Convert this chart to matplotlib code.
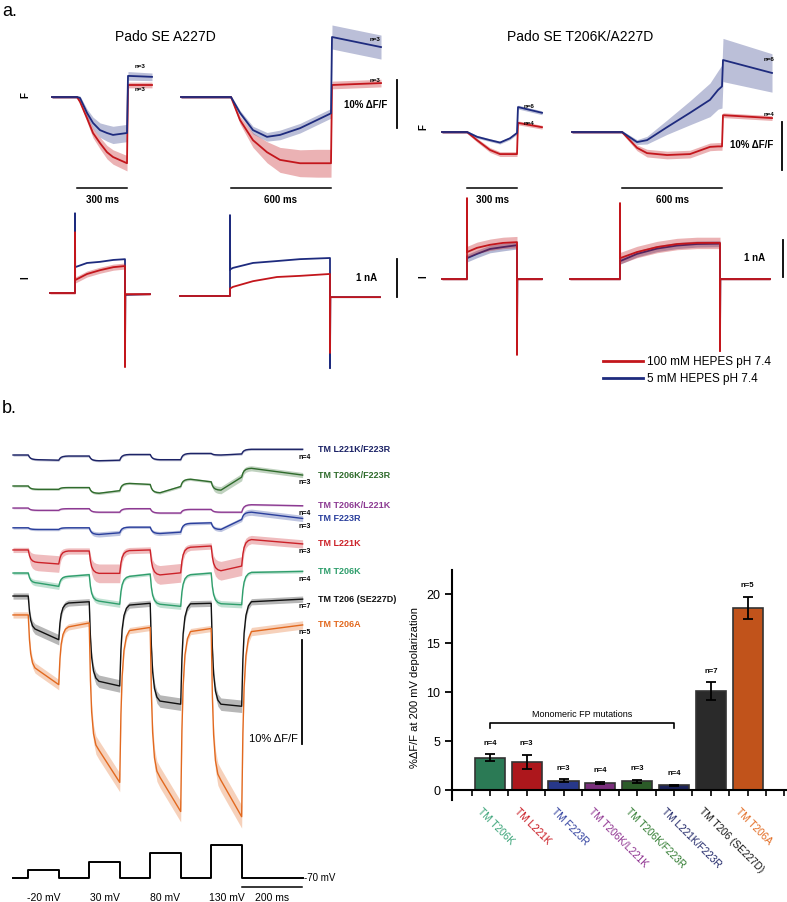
import numpy as np
import matplotlib
matplotlib.use('Agg')
import matplotlib.pyplot as plt
from matplotlib.lines import Line2D
from matplotlib.transforms import ScaledTranslation

plt.rcParams['font.family'] = ['Liberation Sans', 'DejaVu Sans']

# ---------------- panel a data (F in %dF/F, I in nA, time in ms) ----------------
# Pado SE A227D, 300 ms step
a1_t = [0, 150, 168, 210, 246, 288, 330, 366, 450, 456, 600]
a1_blue = [0, 0, -0.2, -3.3, -5.4, -6.9, -7.5, -7.9, -7.5, 4.4, 4.2]
a1_blue_sd = [0.3, 0.3, 0.4, 0.8, 1.2, 1.5, 1.7, 1.8, 1.8, 0.9, 0.8]
a1_red = [0, 0, -1.0, -4.4, -7.5, -9.6, -11.5, -12.5, -13.8, 2.5, 2.5]
a1_red_sd = [0.3, 0.3, 0.4, 0.8, 1.0, 1.2, 1.4, 1.5, 1.6, 0.6, 0.6]
# Pado SE A227D, 600 ms step
a2_t = [0, 300, 354, 432, 516, 594, 714, 816, 900, 906, 1200]
a2_blue = [0, 0, -3.3, -6.9, -8.3, -7.9, -6.5, -4.8, -3.4, 12.5, 10.4]
a2_blue_sd = [0.3, 0.3, 0.5, 0.8, 0.9, 1.0, 1.0, 1.0, 1.0, 2.5, 2.5]
a2_red = [0, 0, -4.8, -9.0, -11.5, -13.1, -13.8, -13.8, -13.8, 2.5, 2.9]
a2_red_sd = [0.3, 0.3, 0.8, 1.5, 2.2, 2.6, 2.8, 2.9, 2.9, 0.8, 0.8]
# Pado SE T206K/A227D, 300 ms step
a3_t = [0, 150, 210, 288, 348, 408, 450, 456, 600]
a3_blue = [0, 0, -1.0, -1.7, -2.2, -1.3, -0.2, 5.2, 4.0]
a3_blue_sd = [0.3, 0.3, 0.3, 0.3, 0.3, 0.3, 0.3, 0.4, 0.4]
a3_red = [0, 0, -1.7, -3.75, -4.6, -4.6, -4.6, 1.9, 1.0]
a3_red_sd = [0.3, 0.3, 0.4, 0.5, 0.5, 0.5, 0.5, 0.4, 0.4]
# Pado SE T206K/A227D, 600 ms step
a4_t = [0, 300, 390, 450, 570, 708, 828, 876, 900, 906, 1200]
a4_blue = [0, 0, -2.1, -1.7, 1.0, 4.0, 6.7, 8.75, 9.5, 15.0, 12.3]
a4_blue_sd = [0.3, 0.3, 0.5, 0.8, 1.5, 2.5, 3.5, 4.0, 4.5, 4.5, 4.0]
a4_red = [0, 0, -3.3, -4.4, -4.8, -4.6, -3.1, -3.0, -3.0, 3.5, 2.9]
a4_red_sd = [0.3, 0.3, 0.6, 0.8, 0.8, 0.8, 0.8, 0.8, 0.8, 0.5, 0.5]

# currents
i1_t = [0, 150, 150, 151, 222, 300, 380, 450, 450, 452, 600]
i1_blue = [0, 0, 2.1, 0.68, 0.79, 0.82, 0.87, 0.89, -1.5, -0.05, -0.03]
i1_red = [0, 0, 1.6, 0.34, 0.5, 0.6, 0.68, 0.71, -1.95, -0.03, -0.03]
i1_red_sd = [0.03, 0.03, 0.03, 0.08, 0.08, 0.08, 0.08, 0.08, 0.03, 0.03, 0.03]
i2_t = [0, 300, 300, 301, 318, 438, 582, 720, 900, 900, 902, 1200]
i2_blue = [0, 0, 2.13, 0.7, 0.74, 0.87, 0.92, 0.97, 1.0, -1.9, -0.03, -0.03]
i2_red = [0, 0, 0.2, 0.2, 0.24, 0.39, 0.5, 0.53, 0.58, -1.5, -0.03, -0.03]
i3_t = [0, 150, 150, 151, 210, 288, 366, 450, 450, 452, 600]
i3_blue = [0, 0, 0.6, 0.55, 0.66, 0.79, 0.84, 0.89, -1.5, 0, 0]
i3_blue_sd = [0.02, 0.02, 0.02, 0.1, 0.1, 0.1, 0.1, 0.1, 0.02, 0.02, 0.02]
i3_red = [0, 0, 2.13, 0.71, 0.82, 0.9, 0.95, 0.97, -2.0, 0, 0]
i3_red_sd = [0.03, 0.03, 0.03, 0.15, 0.15, 0.15, 0.15, 0.15, 0.03, 0.03, 0.03]
i4_t = [0, 300, 300, 301, 402, 522, 642, 762, 900, 900, 902, 1200]
i4_blue = [0, 0, 0.5, 0.47, 0.66, 0.8, 0.88, 0.92, 0.93, -1.5, 0, 0]
i4_blue_sd = [0.02, 0.02, 0.02, 0.08, 0.08, 0.08, 0.08, 0.08, 0.08, 0.02, 0.02, 0.02]
i4_red = [0, 0, 2.0, 0.55, 0.71, 0.84, 0.92, 0.95, 0.95, -1.9, 0, 0]
i4_red_sd = [0.03, 0.03, 0.03, 0.15, 0.15, 0.15, 0.15, 0.15, 0.15, 0.03, 0.03, 0.03]

a_titles = ['Pado SE A227D', 'Pado SE T206K/A227D']
a_n = [('n=3', 'n=3'), ('n=3', 'n=3'), ('n=6', 'n=4'), ('n=6', 'n=4')]
legend_labels = ['100 mM HEPES pH 7.4', '5 mM HEPES pH 7.4']

# ---------------- panel b data ----------------
seg_edges = [0, 50, 150, 250, 350, 450, 550, 650, 750, 950]
hold_mv = -70
step_mv = [-20, 30, 80, 130]
# shared relaxation shape (ms after a step, fraction reached)
kin_t = [0, 4, 8, 14, 22, 32]
kin_frac = [0, 0.45, 0.7, 0.87, 0.96, 1.0]

b_names = ['TM L221K/F223R', 'TM T206K/F223R', 'TM T206K/L221K', 'TM F223R',
           'TM L221K', 'TM T206K', 'TM T206 (SE227D)', 'TM T206A']
b_n = ['n=4', 'n=3', 'n=4', 'n=3', 'n=3', 'n=4', 'n=7', 'n=5']
b_colors = ['#1c2366', '#2f6b2c', '#8c3a92', '#2a3f9c', '#cc2229', '#2f9e6c', '#111111', '#e2691f']
b_offsets = [0, -2.98, -5.1, -7.0, -9.13, -11.35, -13.56, -15.38]
# value early in each segment (32 ms after the step) and at the end of it
b_early = [
    [0, -0.45, -0.1, -0.55, 0.05, -0.45, 0.15, 0.0, 0.55],
    [0, -0.32, -0.15, -0.7, 0.25, -0.65, 0.65, -0.4, 1.7],
    [0, -0.22, -0.06, -0.4, -0.06, -0.48, -0.13, -0.4, 0.32],
    [0, -0.16, 0.0, -0.64, 0.06, -0.55, 0.42, -0.16, 1.5],
    [0, -1.2, -0.1, -2.25, -0.06, -2.4, 0.26, -2.0, 1.0],
    [0, -0.96, -0.32, -2.7, -0.32, -3.0, -0.16, -2.95, 0.06],
    [0, -3.3, -0.67, -8.2, -0.87, -10.1, -0.75, -10.4, -0.55],
    [0, -5.3, -1.15, -13.0, -1.5, -15.6, -1.6, -15.9, -1.6],
]
b_late = [
    [0, -0.5, -0.1, -0.5, 0.05, -0.45, 0.15, 0.1, 0.55],
    [0, -0.32, -0.15, -0.45, 0.15, -0.05, 0.4, 0.85, 1.05],
    [0, -0.22, -0.06, -0.4, -0.06, -0.48, -0.13, -0.4, 0.22],
    [0, -0.16, 0.0, -0.48, 0.06, -0.42, 0.48, 0.8, 0.9],
    [0, -1.35, -0.1, -2.25, 0.0, -2.2, 0.38, -1.55, 0.58],
    [0, -1.28, -0.16, -3.0, -0.1, -3.2, 0.0, -3.05, 0.16],
    [0, -4.2, -0.55, -8.65, -0.7, -10.4, -0.7, -10.6, -0.3],
    [0, -6.7, -0.77, -16.1, -1.2, -18.9, -1.3, -19.4, -0.96],
]
b_sd = [
    [0.1] * 9,
    [0.1, 0.1, 0.1, 0.12, 0.1, 0.12, 0.12, 0.35, 0.25],
    [0.08] * 9,
    [0.12, 0.12, 0.12, 0.25, 0.12, 0.2, 0.15, 0.2, 0.3],
    [0.25, 0.8, 0.3, 0.9, 0.3, 0.9, 0.3, 0.9, 0.4],
    [0.15, 0.3, 0.15, 0.3, 0.15, 0.3, 0.15, 0.3, 0.15],
    [0.3, 0.5, 0.3, 0.6, 0.3, 0.6, 0.3, 0.6, 0.3],
    [0.3, 0.5, 0.3, 0.9, 0.3, 1.0, 0.3, 1.1, 0.4],
]

# ---------------- bar chart data ----------------
bar_labels = ['TM T206K', 'TM L221K', 'TM F223R', 'TM T206K/L221K',
              'TM T206K/F223R', 'TM L221K/F223R', 'TM T206 (SE227D)', 'TM T206A']
bar_values = [3.3, 2.9, 0.95, 0.75, 0.9, 0.48, 10.1, 18.6]
bar_err = [0.35, 0.7, 0.15, 0.1, 0.12, 0.08, 0.9, 1.1]
bar_n = ['n=4', 'n=3', 'n=3', 'n=4', 'n=3', 'n=4', 'n=7', 'n=5']
bar_colors = ['#2b7a55', '#ad171c', '#27388a', '#7a2f7c', '#2b5b28', '#1c2358', '#2a2a2a', '#c1531b']
bar_label_colors = ['#36a276', '#c8141c', '#2a3a9c', '#8c2f8e', '#2e7a2e', '#1c2366', '#111111', '#e2691f']

RED = '#c3161c'
BLUE = '#1e2b7e'

W, H = 787, 902
fig = plt.figure(figsize=(W / 100, H / 100), dpi=100)


def place(ox, oy, xs, ys, y0=0.0, left=-30, right=240, top=-100, bottom=110):
    # axes whose data origin (t=0, value=y0) sits at pixel (ox, oy)
    ax = fig.add_axes([(ox + left) / W, 1 - (oy + bottom) / H,
                       (right - left) / W, (bottom - top) / H])
    ax.set_xlim(left * xs, right * xs)
    ax.set_ylim(y0 - bottom / ys, y0 - top / ys)
    ax.axis('off')
    return ax


def band_line(ax, t, v, sd, color, lw=1.3, z=2):
    t = np.asarray(t, float)
    v = np.asarray(v, float)
    if sd is not None:
        sd = np.asarray(sd, float)
        ax.fill_between(t, v - sd, v + sd, color=color, alpha=0.33, lw=0, zorder=z)
    ax.plot(t, v, color=color, lw=lw, zorder=z + 1, solid_joinstyle='round')


fig.text(2 / W, 1 - 12 / H, 'a.', fontsize=13, va='center')
fig.text(2 / W, 1 - 408 / H, 'b.', fontsize=13, va='center')
fig.text(165 / W, 1 - 37 / H, a_titles[0], fontsize=10, ha='center', va='center')
fig.text(580 / W, 1 - 37 / H, a_titles[1], fontsize=10, ha='center', va='center')

MS = 6.0      # ms per pixel, panel a
FPX = 4.8     # pixels per %dF/F
IPX = 38.0    # pixels per nA
sfont = dict(fontsize=7, fontweight='bold')

# fluorescence, panel a
f_data = [(a1_t, a1_blue, a1_blue_sd, a1_red, a1_red_sd),
          (a2_t, a2_blue, a2_blue_sd, a2_red, a2_red_sd),
          (a3_t, a3_blue, a3_blue_sd, a3_red, a3_red_sd),
          (a4_t, a4_blue, a4_blue_sd, a4_red, a4_red_sd)]
f_orig = [(52, 97), (181, 97), (442, 132), (572, 132)]
f_axes = []
for k, ((t, b, bsd, r, rsd), (ox, oy)) in enumerate(zip(f_data, f_orig)):
    ax = place(ox, oy, MS, FPX)
    ax.fill_between(t, np.array(r) - rsd, np.array(r) + rsd, color=RED, alpha=0.33, lw=0)
    ax.fill_between(t, np.array(b) - bsd, np.array(b) + bsd, color=BLUE, alpha=0.3, lw=0)
    ax.plot(t, r, color=RED, lw=1.3)
    ax.plot(t, b, color=BLUE, lw=1.3)
    f_axes.append(ax)

# n labels, panel a
n_pos = [((528, 6.25), (528, 1.46)), ((1164, 11.9), (1164, 3.5)),
         ((522, 5.4), (522, 1.7)), ((1182, 15.2), (1182, 3.75))]
for ax, (nb, nr), ((tb, yb), (tr, yr)) in zip(f_axes, a_n, n_pos):
    ax.text(tb, yb, nb, fontsize=4.5, fontweight='bold', ha='center', va='center')
    ax.text(tr, yr, nr, fontsize=4.5, fontweight='bold', ha='center', va='center')

# time scale bars
for ax, (t0, t1), ybar in [(f_axes[0], (150, 450), -19.0), (f_axes[1], (300, 900), -19.0),
                           (f_axes[2], (150, 450), -11.7), (f_axes[3], (300, 900), -11.7)]:
    ax.plot([t0, t1], [ybar, ybar], color='k', lw=1.1, clip_on=False)
    ax.text((t0 + t1) / 2, ybar - 2.5, f'{t1 - t0} ms', ha='center', va='center', **sfont)

# 10 % bars
f_axes[1].plot([1296, 1296], [3.5, -6.5], color='k', lw=1.3)
f_axes[1].text(1236, -1.7, '10% ΔF/F', ha='right', va='center', **sfont)
f_axes[3].plot([1260, 1260], [2.1, -7.9], color='k', lw=1.3)
f_axes[3].text(1206, -2.7, '10% ΔF/F', ha='right', va='center', **sfont)
f_axes[0].text(-162, 0.4, 'F', rotation=90, ha='center', va='center', **sfont)
f_axes[2].text(-114, 1.0, 'F', rotation=90, ha='center', va='center', **sfont)

# currents, panel a
i_orig = [(50, 293), (180, 296), (442, 279), (570, 279)]
i_data = [(i1_t, i1_blue, None, i1_red, i1_red_sd),
          (i2_t, i2_blue, None, i2_red, None),
          (i3_t, i3_blue, i3_blue_sd, i3_red, i3_red_sd),
          (i4_t, i4_blue, i4_blue_sd, i4_red, i4_red_sd)]
i_axes = []
for (t, b, bsd, r, rsd), (ox, oy) in zip(i_data, i_orig):
    ax = place(ox, oy, MS, IPX)
    band_line(ax, t, b, bsd, BLUE, z=2)
    band_line(ax, t, r, rsd, RED, z=4)
    i_axes.append(ax)
i_axes[1].plot([1302, 1302], [-0.03, 0.97], color='k', lw=1.3)
i_axes[1].text(1182, 0.47, '1 nA', ha='right', va='center', **sfont)
i_axes[3].plot([1278, 1278], [0.05, 1.03], color='k', lw=1.3)
i_axes[3].text(1170, 0.55, '1 nA', ha='right', va='center', **sfont)
i_axes[0].text(-150, 0.39, 'I', rotation=90, ha='center', va='center', **sfont)
i_axes[2].text(-114, 0.05, 'I', rotation=90, ha='center', va='center', **sfont)

handles = [Line2D([], [], color=RED, lw=2), Line2D([], [], color=BLUE, lw=2)]
fig.legend(handles, legend_labels, loc='upper left', bbox_to_anchor=(603 / W, 1 - 356 / H),
           frameon=False, fontsize=8.5, handlelength=3.4, handletextpad=0.3,
           labelspacing=0.45, borderpad=0, borderaxespad=0)

# ---------------- panel b traces ----------------
BMS = 3.28    # ms per pixel
BPX = 10.4    # pixels per %dF/F
bx = place(13, 455, BMS, BPX, left=-5, right=330, top=-20, bottom=380)


def build(early, late):
    tt, vv = [], []
    prev = early[0]
    for k in range(len(seg_edges) - 1):
        s, e = seg_edges[k], seg_edges[k + 1]
        for dt, f in zip(kin_t, kin_frac):
            tt.append(s + dt)
            vv.append(prev + (early[k] - prev) * f)
        tt.append(e)
        vv.append(late[k])
        prev = late[k]
    return np.array(tt), np.array(vv)


for name, n, c, off, e, l, sd in zip(b_names, b_n, b_colors, b_offsets, b_early, b_late, b_sd):
    t, v = build(e, l)
    _, s = build(sd, sd)
    bx.fill_between(t, off + v - s, off + v + s, color=c, alpha=0.3, lw=0)
    bx.plot(t, off + v, color=c, lw=1.0)
    bx.text(935, off + l[-1] - 0.75, n, fontsize=5, fontweight='bold', ha='left', va='center')
    bx.text(1000, off + l[-1], name, fontsize=6.5, color=c, fontweight='bold', ha='left', va='center')

bx.plot([948, 948], [-17.8, -27.8], color='k', lw=1.3)
bx.text(935, -27.3, '10% ΔF/F', ha='right', va='center', fontsize=8)

# voltage protocol
VPX = 0.165   # pixels per mV
vx = place(13, 878, BMS, VPX, y0=hold_mv, left=-5, right=330, top=-40, bottom=24)
levels = [hold_mv]
for v in step_mv:
    levels += [v, hold_mv]
vx.step(seg_edges, levels + [hold_mv], where='post', color='k', lw=1.4)
vx.plot([750, 948], [hold_mv - 9 / VPX] * 2, color='k', lw=1.1)
vx.text(953, hold_mv, f'{hold_mv} mV', fontsize=7, ha='left', va='center')
for k, v in enumerate(step_mv):
    mid = (seg_edges[2 * k + 1] + seg_edges[2 * k + 2]) / 2
    vx.text(mid, hold_mv - 20 / VPX, f'{v} mV', fontsize=7.5, ha='center', va='center')
vx.text(850, hold_mv - 20 / VPX, '200 ms', fontsize=7.5, ha='center', va='center')

# ---------------- bar chart ----------------
cx = fig.add_axes([452 / W, 1 - 800 / H, (787 - 452) / W, (800 - 569.5) / H])
xpos = np.arange(len(bar_values))
cx.bar(xpos, bar_values, width=0.82, color=bar_colors, edgecolor='#333333', linewidth=1.2, zorder=2)
cx.errorbar(xpos, bar_values, yerr=bar_err, fmt='none', ecolor='k', elinewidth=1.3,
            capsize=3.5, capthick=1.3, zorder=3)
for x, v, e, n in zip(xpos, bar_values, bar_err, bar_n):
    cx.text(x, v + e + 1.15, n, ha='center', va='center', fontsize=5.5, fontweight='bold')
cx.plot([0, 0, 5, 5], [6.3, 6.8, 6.8, 6.3], color='k', lw=1.2)
cx.text(2.5, 7.75, 'Monomeric FP mutations', ha='center', va='center', fontsize=6.5)
cx.set_xlim(-1.03, 8.07)
cx.set_ylim(-1, 22.5)
cx.spines['top'].set_visible(False)
cx.spines['right'].set_visible(False)
cx.spines['bottom'].set_position(('data', 0))
cx.spines['left'].set_linewidth(1.5)
cx.spines['bottom'].set_linewidth(1.5)
cx.set_xticks(xpos)
cx.set_xticks(np.append(xpos - 0.5, [7.5, 8.0]), minor=True)
cx.set_xticklabels([])
cx.tick_params(axis='x', which='both', direction='out', length=4, width=1.2)
cx.set_yticks([0, 5, 10, 15, 20])
cx.tick_params(axis='y', direction='out', length=5, width=1.3, labelsize=9)
cx.set_ylabel('%ΔF/F at 200 mV depolarization', fontsize=8)
cx.yaxis.set_label_coords(-0.096, 0.486)
shift = ScaledTranslation(-7 / 100, -16 / 100, fig.dpi_scale_trans)
for x, lab, c in zip(xpos, bar_labels, bar_label_colors):
    cx.text(x, 0, lab, rotation=-45, rotation_mode='anchor', ha='left', va='top',
            fontsize=7.2, color=c, transform=cx.transData + shift)

fig.savefig('out.png', dpi=100)
